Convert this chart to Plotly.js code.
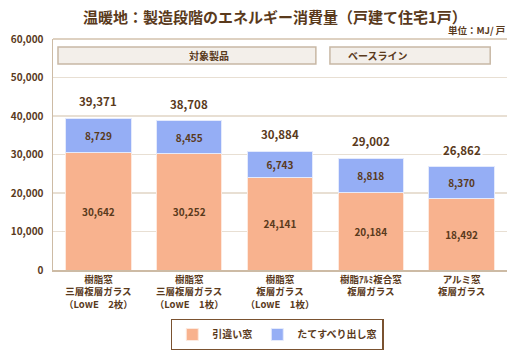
<!DOCTYPE html>
<html><head><meta charset="utf-8">
<script src="https://cdn.plot.ly/plotly-3.0.1.min.js"></script>
<style>body{margin:0;background:#fff}#c{width:525px;height:350px}</style>
</head><body><div id="c"></div>
<script>
const categories = ["<b>樹脂窓</b><br><b>三層複層ガラス</b><br><b>（LowE　2枚）</b>","<b>樹脂窓</b><br><b>三層複層ガラス</b><br><b>（LowE　1枚）</b>","<b>樹脂窓</b><br><b>複層ガラス</b><br><b>（LowE　1枚）</b>","<b>樹脂ｱﾙﾐ複合窓</b><br><b>複層ガラス</b>","<b>アルミ窓</b><br><b>複層ガラス</b>"];
const slidingWindow = [30642, 30252, 24141, 20184, 18492];
const casementWindow = [8729, 8455, 6743, 8818, 8370];
const totals = [39371, 38708, 30884, 29002, 26862];
const seriesNames = ["引違い窓", "たてすべり出し窓"];
const groupLabels = ["対象製品", "ベースライン"];

const brown = "#5a3a1c";
const font = "'Noto Sans CJK JP', 'Noto Sans', sans-serif";
const fmt = v => v.toLocaleString("en-US");

const traces = [
  {type:"bar", name:"<b>"+seriesNames[0]+"</b>", x:categories, y:slidingWindow, marker:{color:"#f8b28e", line:{color:"#fde9de", width:1}},
   text:slidingWindow.map(v=>"<b>"+fmt(v)+"</b>"), textposition:"inside", insidetextanchor:"middle", textfont:{color:brown, size:10, family:font}, hoverinfo:"none"},
  {type:"bar", name:"<b>"+seriesNames[1]+"</b>", x:categories, y:casementWindow, marker:{color:"#95aef5", line:{color:"#e4eafc", width:1}},
   text:casementWindow.map(v=>"<b>"+fmt(v)+"</b>"), textposition:"inside", insidetextanchor:"middle", textfont:{color:brown, size:10, family:font}, hoverinfo:"none"}
];

const annotations = [
  {xref:"paper", yref:"paper", x:0.489, y:1, yshift:23, text:"<b>温暖地：製造段階のエネルギー消費量（戸建て住宅1戸）</b>", showarrow:false, font:{size:15, color:brown, family:font}, xanchor:"center", yanchor:"middle"},
  {xref:"paper", yref:"paper", x:1, y:1, yshift:9, text:"<b>単位：MJ/ 戸</b>", showarrow:false, font:{size:9.5, color:brown, family:font}, xanchor:"right", yanchor:"middle"},
  {xref:"paper", yref:"paper", x:(0.011+0.579)/2, y:0.9285, yanchor:"middle", text:"<b>"+groupLabels[0]+"</b>", showarrow:false, font:{size:10, color:brown, family:font}},
  {xref:"paper", yref:"paper", x:(0.610+0.963)/2, y:0.9285, yanchor:"middle", text:"<b>"+groupLabels[1]+"</b>", showarrow:false, font:{size:10, color:brown, family:font}}
];
totals.forEach((t,i)=>annotations.push({x:categories[i], y:t, yshift:17, text:"<b>"+fmt(t)+"</b>", showarrow:false, bgcolor:"#ffffff", font:{size:11.5, color:brown, family:font}}));

const shapes = [
  {type:"rect", xref:"paper", yref:"paper", x0:0.011, x1:0.579, y0:0.892, y1:0.965, fillcolor:"#f3efea", line:{color:"#c8b8a5", width:1.5}, layer:"below"},
  {type:"rect", xref:"paper", yref:"paper", x0:0.610, x1:0.963, y0:0.892, y1:0.965, fillcolor:"#f3efea", line:{color:"#c8b8a5", width:1.5}, layer:"below"},
  {type:"line", xref:"paper", yref:"paper", x0:0, x1:1, y0:1, y1:1, line:{color:"#d3c2ad", width:1.5}}
];

const layout = {
  width:525, height:350, margin:{l:53, r:18, t:39, b:80, autoexpand:false},
  paper_bgcolor:"#fff", plot_bgcolor:"#fff",
  barmode:"stack", bargap:0.28,
  font:{family:font, color:brown},
  xaxis:{showline:true, linecolor:"#cdbba5", linewidth:1.5, ticks:"", tickfont:{size:9.5, color:brown, family:font}, fixedrange:true},
  yaxis:{range:[0,60000], dtick:10000, tickformat:",d", showgrid:true, gridcolor:"#e8dfd3", gridwidth:1.5, showline:true, linecolor:"#cdbba5", linewidth:1.5, zeroline:false, tickfont:{size:10, color:brown, family:font}, ticklabelstandoff:6, tickprefix:"<b>", ticksuffix:"</b>"},
  legend:{orientation:"h", x:0.494, xanchor:"center", y:-0.21, yanchor:"top", bordercolor:"#7a5230", borderwidth:1.5, font:{size:10, color:brown, family:font}, traceorder:"normal", itemwidth:30},
  showlegend:true,
  annotations, shapes
};
Plotly.newPlot("c", traces, layout, {displayModeBar:false, staticPlot:true});
</script></body></html>
